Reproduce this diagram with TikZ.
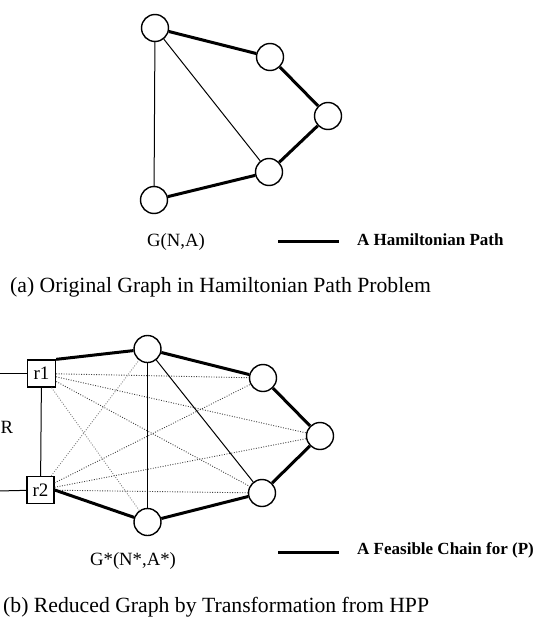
\documentclass[tikz,border=0pt]{standalone}
\usepackage{fontspec}
\setmainfont{Liberation Serif}
\begin{document}
\begin{tikzpicture}[x=1pt,y=-1pt,
  vtx/.style={circle,draw,line width=1.4pt,minimum size=27pt,inner sep=0pt},
  rbox/.style={draw,line width=1.3pt,minimum width=28pt,minimum height=27pt,inner sep=0pt,font=\fontsize{19}{19}\selectfont},
  heavy/.style={line width=3pt},
  light/.style={line width=1pt},
  dotline/.style={line width=0.9pt,dash pattern=on 0.9pt off 1.6pt,black!75},
  dotlight/.style={line width=0.9pt,dash pattern=on 0.9pt off 1.6pt,black!50},
  lbl/.style={font=\fontsize{18.7}{20}\selectfont,inner sep=0pt},
  legtxt/.style={font=\bfseries\fontsize{17}{19}\selectfont,inner sep=0pt,anchor=west},
  captxt/.style={font=\fontsize{21.7}{24}\selectfont,inner sep=0pt,anchor=west}]
\useasboundingbox (0,0) rectangle (537,618);

% ---------- (a) ----------
\node[vtx] (a1) at (155,28) {};
\node[vtx] (a2) at (270,57) {};
\node[vtx] (a3) at (328,116) {};
\node[vtx] (a4) at (269,172) {};
\node[vtx] (a5) at (154,200) {};
\draw[heavy] (a1) -- (a2);
\draw[heavy] (a2) -- (a3);
\draw[heavy] (a3) -- (a4);
\draw[heavy] (a4) -- (a5);
\draw[light] (a1) -- (a5);
\draw[light] (a1) -- (a4);

\node[lbl] (ga) at (176,242) {G(N,A)};
\coordinate (la1) at (278,241);
\coordinate (la2) at (339,241);
\draw[heavy] (la1) -- (la2);
\node[legtxt] (lta) at (357,240) {A Hamiltonian Path};
\node[captxt] (capa) at (10,287) {(a) Original Graph in Hamiltonian Path Problem};

% ---------- (b) ----------
\node[rbox] (r1) at (41.5,373.5) {r1};
\node[rbox,minimum width=27pt] (r2) at (40.5,490) {r2};
\node[vtx] (t) at (147.5,349) {};
\node[vtx] (rt) at (263,378) {};
\node[vtx] (rn) at (320,436) {};
\node[vtx] (rb) at (262,493) {};
\node[vtx] (bo) at (147.5,522) {};

\coordinate (e1) at (-2,373.5);
\coordinate (e2) at (-2,491);
\draw[light] (e1) -- (r1);
\draw[light] (e2) -- (r2);
\node[lbl,anchor=west] (R) at (0.5,427) {R};

\draw[dotline] (r1) -- (rt);
\draw[dotline] (r1) -- (rn);
\draw[dotline] (r1) -- (rb);
\draw[dotlight] (r1) -- (bo);
\draw[dotlight] (r2) -- (t);
\draw[dotline] (r2) -- (rt);
\draw[dotline] (r2) -- (rn);
\draw[dotline] (r2) -- (rb);

\draw[light] (r1) -- (r2);
\draw[light] (t) -- (bo);
\draw[light] (t) -- (rb);
\draw[heavy] (r1.north east) -- (t);
\draw[heavy] (t) -- (rt);
\draw[heavy] (rt) -- (rn);
\draw[heavy] (rn) -- (rb);
\draw[heavy] (rb) -- (bo);
\draw[heavy] (bo) -- (r2.east);

\node[lbl] (gb) at (133,561) {G*(N*,A*)};
\coordinate (lb1) at (278,552);
\coordinate (lb2) at (339,552);
\draw[heavy] (lb1) -- (lb2);
\node[legtxt] (ltb) at (357,550) {A Feasible Chain for (P)};
\node[captxt] (capb) at (3,607) {(b) Reduced Graph by Transformation from HPP};
\end{tikzpicture}
\end{document}
